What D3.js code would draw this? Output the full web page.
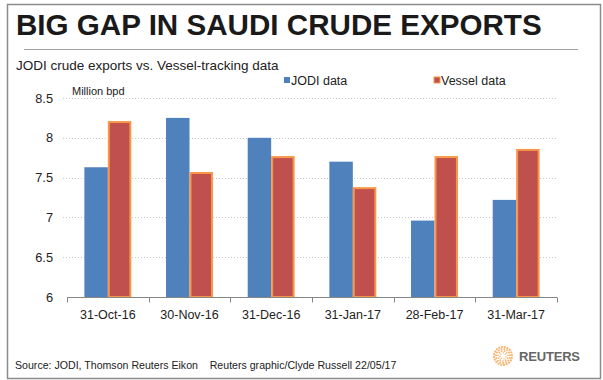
<!DOCTYPE html>
<html><head><meta charset="utf-8">
<script src="https://cdn.jsdelivr.net/npm/d3@7"></script>
<style>body{margin:0;background:#fff}svg{display:block;font-family:"Liberation Sans",Arial,sans-serif}</style>
</head><body>
<script>
const categories = ["31-Oct-16","30-Nov-16","31-Dec-16","31-Jan-17","28-Feb-17","31-Mar-17"];
const seriesNames = ["JODI data","Vessel data"];
const jodiValues = [7.63, 8.25, 8.00, 7.70, 6.96, 7.22];
const vesselValues = [8.21, 7.57, 7.77, 7.38, 7.77, 7.86];
const yTicks = [6, 6.5, 7, 7.5, 8, 8.5];

const W = 603, H = 380;
const svg = d3.select("body").append("svg").attr("width", W).attr("height", H);
svg.append("rect").attr("width", W).attr("height", H).attr("fill", "#fff");
svg.append("rect").attr("x", 7.5).attr("y", 4.5).attr("width", 593).attr("height", 374)
  .attr("fill", "none").attr("stroke", "#8c8c8c").attr("stroke-width", 1.5);

svg.append("text").attr("x", 16).attr("y", 34.5).attr("font-size", 29.6).attr("font-weight", "bold")
  .attr("fill", "#1a1a1a").text("BIG GAP IN SAUDI CRUDE EXPORTS");
svg.append("line").attr("x1", 24).attr("x2", 578).attr("y1", 49.5).attr("y2", 49.5)
  .attr("stroke", "#a0a0a0").attr("stroke-width", 1);
svg.append("text").attr("x", 16).attr("y", 70).attr("font-size", 13.5).attr("fill", "#222")
  .text("JODI crude exports vs. Vessel-tracking data");

const x0 = d3.scaleBand().domain(categories).range([67, 557]);
const x1 = d3.scaleBand().domain(seriesNames).range([0, x0.bandwidth()]).paddingOuter(0.74);
const y = d3.scaleLinear().domain([6, 8.5]).range([297, 98]);

// gridlines
svg.append("g").selectAll("line").data(yTicks.slice(1)).join("line")
  .attr("x1", 63).attr("x2", 557).attr("y1", d => Math.round(y(d)) + 0.5).attr("y2", d => Math.round(y(d)) + 0.5)
  .attr("stroke", "#c8c8c8").attr("stroke-dasharray", "1,2");

// y labels
svg.append("g").selectAll("text").data(yTicks).join("text")
  .attr("x", 53).attr("y", d => y(d) + 4.5).attr("text-anchor", "end")
  .attr("font-size", 12.8).attr("fill", "#222").text(d => d);

svg.append("text").attr("x", 72).attr("y", 95).attr("font-size", 11).attr("fill", "#222").text("Million bpd");

// bars
const colors = {"JODI data": "#4F81BD", "Vessel data": "#C0504D"};
const rows = categories.map((c, i) => ({c, vals: [
  {s: "JODI data", v: jodiValues[i]}, {s: "Vessel data", v: vesselValues[i]}]}));
const g = svg.append("g").selectAll("g").data(rows).join("g")
  .attr("transform", d => `translate(${x0(d.c)},0)`);
g.selectAll("rect").data(d => d.vals).join("rect")
  .attr("x", d => x1(d.s) + (d.s === "Vessel data" ? 1 : 0))
  .attr("width", d => x1.bandwidth() - (d.s === "Vessel data" ? 2 : 0))
  .attr("y", d => y(d.v) + (d.s === "Vessel data" ? 1 : 0))
  .attr("height", d => y(6) - y(d.v) - (d.s === "Vessel data" ? 1 : 0))
  .attr("fill", d => colors[d.s])
  .attr("stroke", d => d.s === "Vessel data" ? "#F79646" : "none")
  .attr("stroke-width", 2);

// x axis
const xAxis = svg.append("g").attr("transform", "translate(0,297.5)");
xAxis.append("line").attr("x1", 67).attr("x2", 557).attr("stroke", "#868686");
const bounds = categories.map(c => x0(c)).concat([557]);
xAxis.selectAll("line.t").data(bounds).join("line").attr("class", "t")
  .attr("x1", d => Math.round(d) + 0.5).attr("x2", d => Math.round(d) + 0.5).attr("y1", 0).attr("y2", 5)
  .attr("stroke", "#868686");
xAxis.selectAll("text").data(categories).join("text")
  .attr("x", d => x0(d) + x0.bandwidth() / 2).attr("y", 21).attr("text-anchor", "middle")
  .attr("font-size", 12.5).attr("fill", "#222").text(d => d);

// legend
const legendX = [284, 434];
seriesNames.forEach((s, i) => {
  svg.append("rect").attr("x", legendX[i]).attr("y", 77).attr("width", 6).attr("height", 6)
    .attr("fill", colors[s]).attr("stroke", s === "Vessel data" ? "#F79646" : "none").attr("stroke-width", 1);
  svg.append("text").attr("x", legendX[i] + 7).attr("y", 85).attr("font-size", 12.5).attr("fill", "#222").text(s);
});

// footer
svg.append("text").attr("x", 15).attr("y", 369).attr("font-size", 10.6).attr("fill", "#222")
  .attr("xml:space", "preserve")
  .text("Source: JODI, Thomson Reuters Eikon    Reuters graphic/Clyde Russell 22/05/17");

// reuters logo
const logo = svg.append("g").attr("transform", "translate(503,356)");
for (let r = 3; r <= 9; r += 2) {
  const n = Math.round(r * 2.2);
  for (let k = 0; k < n; k++) {
    const a = k / n * 2 * Math.PI + r;
    logo.append("circle").attr("cx", r * Math.cos(a)).attr("cy", r * Math.sin(a))
      .attr("r", 0.5 + r * 0.07).attr("fill", "#F5A04A").attr("opacity", 0.8);
  }
}
svg.append("text").attr("x", 519).attr("y", 361).attr("font-size", 13).attr("font-weight", "bold")
  .attr("fill", "#666").attr("textLength", 61).text("REUTERS");
</script>
</body></html>
